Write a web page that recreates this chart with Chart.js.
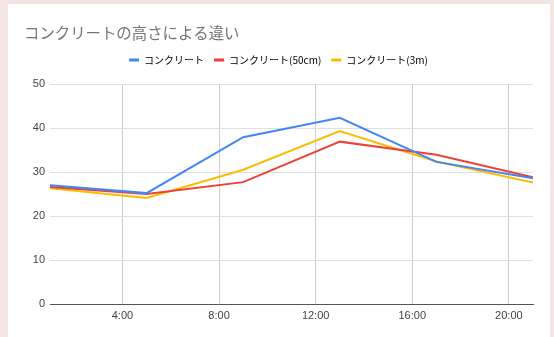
<!DOCTYPE html>
<html>
<head>
<meta charset="utf-8">
<script src="https://cdn.jsdelivr.net/npm/chart.js@4"></script>
<style>
  html, body { margin: 0; padding: 0; background: #f3e5e2; }
  #wrap { position: relative; width: 554px; height: 337px; }
</style>
</head>
<body>
<div id="wrap"><canvas id="c" width="554" height="337"></canvas></div>
<script>
// Measurement hours (x) and temperatures per surface height
const hours = [1, 5, 9, 13, 17, 21];
const concrete = [27.0, 25.2, 37.9, 42.3, 32.3, 28.6];
const concrete50cm = [26.6, 25.0, 27.7, 36.9, 33.9, 28.8];
const concrete3m = [26.3, 24.1, 30.5, 39.3, 32.4, 27.6];
const seriesNames = ['コンクリート', 'コンクリート(50cm)', 'コンクリート(3m)'];
const xTickHours = [4, 8, 12, 16, 20];
const yTickValues = [0, 10, 20, 30, 40, 50];

const colors = ['#4285F4', '#EA4335', '#FBBC04'];

const toPoints = vals => hours.map((h, i) => ({ x: h, y: vals[i] }));

// White card behind the chart
const cardPlugin = {
  id: 'card',
  beforeDraw(chart) {
    const ctx = chart.ctx;
    ctx.save();
    ctx.fillStyle = '#ffffff';
    ctx.fillRect(8, 4, 542, 333);
    ctx.restore();
  }
};

new Chart(document.getElementById('c'), {
  type: 'line',
  data: {
    datasets: [concrete, concrete50cm, concrete3m].map((vals, i) => ({
      label: seriesNames[i],
      data: toPoints(vals),
      borderColor: colors[i],
      backgroundColor: colors[i],
      borderWidth: 2,
      pointRadius: 0,
      tension: 0,
      fill: false
    }))
  },
  options: {
    responsive: false,
    animation: false,
    events: [],
    layout: { padding: { left: 24, right: 21, top: 0, bottom: 0 } },
    plugins: {
      title: {
        display: true,
        text: 'コンクリートの高さによる違い',
        align: 'start',
        color: '#757575',
        font: { family: '"Noto Sans CJK JP"', size: 15.4, weight: 'normal', lineHeight: '16px' },
        padding: { top: 25, bottom: 4 }
      },
      legend: {
        display: true,
        position: 'top',
        align: 'center',
        labels: {
          boxWidth: 10,
          boxHeight: 3,
          padding: 10,
          color: '#333333',
          font: { family: '"Noto Sans CJK JP"', size: 10 },
          generateLabels(chart) {
            return chart.data.datasets.map((ds, i) => ({
              text: ds.label,
              fillStyle: ds.borderColor,
              strokeStyle: ds.borderColor,
              lineWidth: 0,
              hidden: false,
              datasetIndex: i
            }));
          }
        }
      },
      subtitle: {
        display: true,
        text: '',
        weight: 100,
        font: { size: 1, lineHeight: 1 },
        padding: { top: 8, bottom: 0 }
      },
      tooltip: { enabled: false }
    },
    scales: {
      x: {
        type: 'linear',
        min: 1,
        max: 21,
        afterBuildTicks(scale) {
          scale.ticks = xTickHours.map(v => ({ value: v }));
        },
        afterFit(scale) { scale.height = 33; },
        ticks: {
          callback: v => v + ':00',
          color: '#444444',
          font: { family: '"Liberation Sans", Arial', size: 11 },
          padding: 5,
          maxRotation: 0,
          autoSkip: false
        },
        grid: { color: '#cccccc', lineWidth: 1, drawTicks: false },
        border: { display: true, color: '#555555', width: 1 }
      },
      y: {
        type: 'linear',
        min: 0,
        max: 50,
        afterBuildTicks(scale) {
          scale.ticks = yTickValues.map(v => ({ value: v }));
        },
        afterFit(scale) { scale.width = 26; },
        ticks: {
          color: '#444444',
          font: { family: '"Liberation Sans", Arial', size: 11 },
          padding: 5
        },
        grid: {
          color: ctx => (ctx.tick && ctx.tick.value === 0) ? 'rgba(0,0,0,0)' : '#e0e0e0',
          lineWidth: 1,
          drawTicks: false
        },
        border: { display: false }
      }
    }
  },
  plugins: [cardPlugin]
});
</script>
</body>
</html>
